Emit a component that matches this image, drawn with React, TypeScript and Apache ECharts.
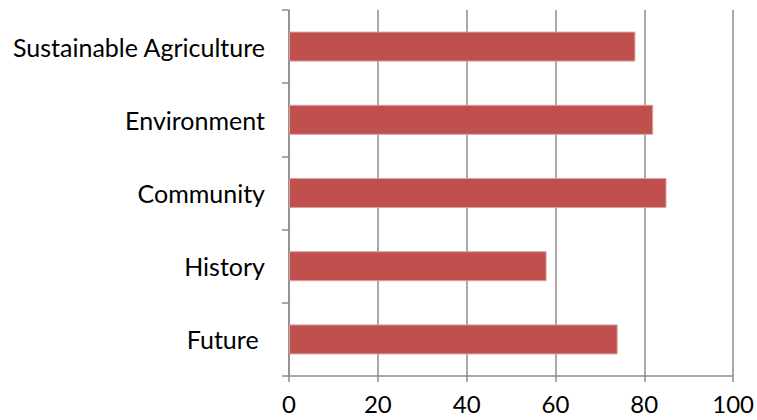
import React, { useEffect, useRef } from "react";
import * as echarts from "echarts";

const categories = ["Future ", "History", "Community", "Environment", "Sustainable Agriculture"];
const values = [74, 58, 85, 82, 78];
const xTicks = [0, 20, 40, 60, 80, 100];

export default function App() {
  const ref = useRef<HTMLDivElement>(null);
  useEffect(() => {
    if (!ref.current) return;
    const chart = echarts.init(ref.current, undefined, { renderer: "svg" });
    const font = "Lato, 'Open Sans', sans-serif";
    chart.setOption({
      animation: false,
      backgroundColor: "#ffffff",
      grid: { left: 289, right: 21, top: 10, bottom: 44, containLabel: false },
      xAxis: {
        type: "value",
        min: xTicks[0],
        max: xTicks[xTicks.length - 1],
        interval: 20,
        axisLine: { show: true, lineStyle: { color: "#8c8c8c", width: 1.5 } },
        axisTick: { show: true, length: 6, lineStyle: { color: "#8c8c8c", width: 1.5 } },
        splitLine: { show: true, lineStyle: { color: "#8c8c8c", width: 1.5 } },
        axisLabel: { color: "#000", fontFamily: font, fontSize: 24, margin: 15, lineHeight: 24 },
      },
      yAxis: {
        type: "category",
        data: categories,
        axisLine: { show: true, lineStyle: { color: "#8c8c8c", width: 1.5 } },
        axisTick: { show: true, length: 7, alignWithLabel: false, lineStyle: { color: "#8c8c8c", width: 1.5 } },
        axisLabel: { color: "#000", fontFamily: font, fontSize: 25, margin: 24 },
      },
      series: [
        {
          type: "bar",
          data: values,
          barCategoryGap: "59%",
          itemStyle: { color: "#C0504D", borderColor: "#d9a09e", borderWidth: 1 },
        },
      ],
    });
    return () => chart.dispose();
  }, []);
  return <div ref={ref} style={{ width: 757, height: 420, position: "absolute", left: 0, top: 0 }} />;
}
